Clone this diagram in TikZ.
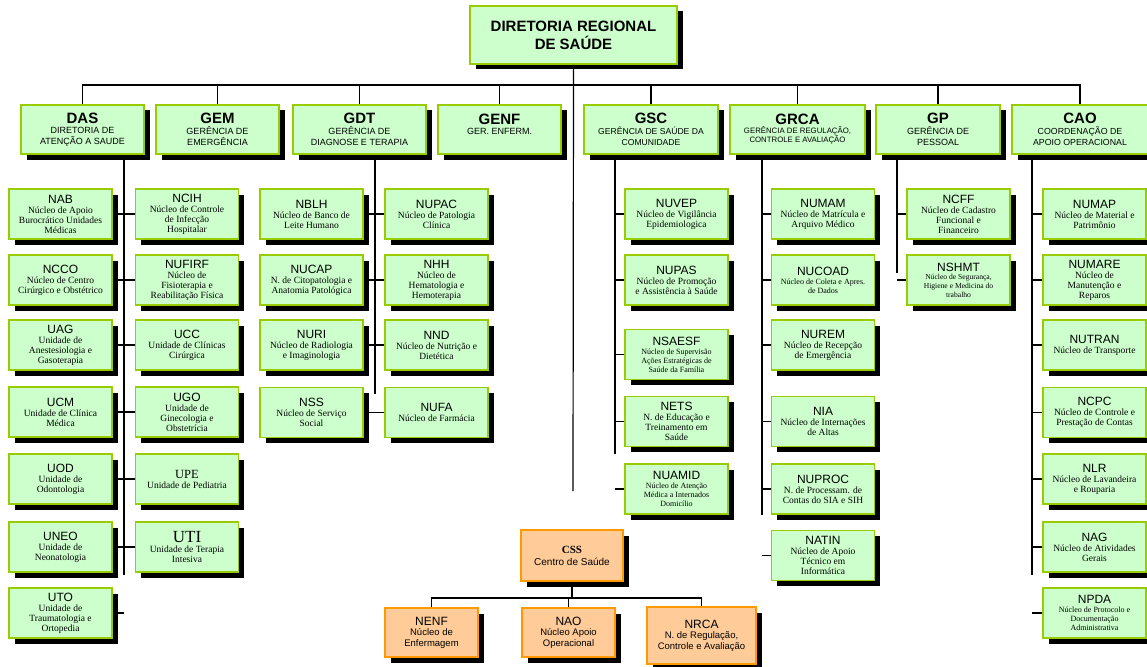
\documentclass[tikz,border=0pt]{standalone}
\usepackage{fontspec}
\setmainfont{Liberation Serif}
\setsansfont{Liberation Sans}
\usetikzlibrary{shadows}
\definecolor{boxgreen}{HTML}{CCFFCC}
\definecolor{edgegreen}{HTML}{99CC00}
\definecolor{boxorange}{HTML}{FFCC99}
\definecolor{edgeorange}{HTML}{FF9900}
\newcommand{\sigla}[1]{{\sffamily\fontsize{12}{12.5}\selectfont #1}}
\newcommand{\gsigla}[1]{{\sffamily\bfseries\fontsize{15}{16}\selectfont #1}}

\begin{document}
\begin{tikzpicture}[x=1pt, y=-1pt, line width=1.2pt,
    shade/.style={drop shadow={shadow xshift=5.5pt, shadow yshift=-5.5pt, fill=black, opacity=1}},
    unit/.style={shade, draw=edgegreen, fill=boxgreen, line width=1.8pt, minimum width=103pt, minimum height=50pt,
      inner sep=1pt, align=center, font=\rmfamily\fontsize{9.5}{10}\selectfont},
    small/.style={font=\rmfamily\fontsize{8}{9}\selectfont},
    manager/.style={shade, draw=edgegreen, fill=boxgreen, line width=1.8pt, minimum width=123pt, minimum height=49pt,
      inner sep=1pt, align=center, font=\sffamily\fontsize{9}{10.7}\selectfont},
    center/.style={unit, draw=edgeorange, fill=boxorange, minimum width=93pt, minimum height=49pt, font=\sffamily\fontsize{9.5}{10.5}\selectfont}]
    \useasboundingbox (0,0) rectangle (1147,666);

    % direction and managements
    \node[manager, minimum width=207pt, minimum height=58pt, font=\sffamily\bfseries\fontsize{15}{18}\selectfont] (dir) at (573.5,35) {DIRETORIA REGIONAL\\DE SAÚDE};
    \node[manager] (das) at (82.5,129.5) {\gsigla{DAS}\\DIRETORIA DE\\ATENÇÃO A SAUDE};
    \node[manager] (gem) at (217.5,129.5) {\gsigla{GEM}\\GERÊNCIA DE\\EMERGÊNCIA};
    \node[manager, minimum width=133pt] (gdt) at (359.5,129.5) {\gsigla{GDT}\\GERÊNCIA DE\\DIAGNOSE E TERAPIA};
    \node[manager] (genf) at (499.5,129.5) {\gsigla{GENF}\\GER. ENFERM.\\\mbox{}};
    \node[manager, minimum width=134pt, font=\sffamily\fontsize{8.6}{10.7}\selectfont] (gsc) at (651,129.5) {\gsigla{GSC}\\GERÊNCIA DE SAÚDE DA\\COMUNIDADE};
    \node[manager, minimum width=135pt, font=\sffamily\fontsize{7.8}{9}\selectfont] (grca) at (797.5,129.5) {\gsigla{GRCA}\\GERÊNCIA DE REGULAÇÃO,\\CONTROLE E AVALIAÇÃO};
    \node[manager, minimum width=124pt] (gp) at (938,129.5) {\gsigla{GP}\\GERÊNCIA DE\\PESSOAL};
    \node[manager, minimum width=136pt, font=\sffamily\fontsize{8.8}{10.7}\selectfont] (cao) at (1080,129.5) {\gsigla{CAO}\\COORDENAÇÃO  DE\\APOIO OPERACIONAL};

    \coordinate (bus) at (0,85);
    \draw (das.north) -- (das.north |- bus) -- (cao.north |- bus) -- (cao.north);
    \foreach \n in {gem,gdt,genf,gsc,grca,gp} {\draw (\n.north) -- (\n.north |- bus);}
    \coordinate (mainend) at (573,491);
    \draw (dir.south) -- (mainend);

    % DAS
    \node[unit] (nab) at (60.5,214) {\sigla{NAB}\\Núcleo de Apoio\\Burocrático Unidades\\Médicas};
    \node[unit] (ncco) at (60.5,280) {\sigla{NCCO}\\Núcleo  de Centro\\Cirúrgico e Obstétrico};
    \node[unit] (uag) at (60.5,345) {\sigla{UAG}\\Unidade de\\Anestesiologia e\\Gasoterapia};
    \node[unit] (ucm) at (60.5,412) {\sigla{UCM}\\Unidade  de Clínica\\Médica};
    \node[unit] (uod) at (60.5,479) {\sigla{UOD}\\Unidade de\\Odontologia};
    \node[unit] (uneo) at (60.5,547) {\sigla{UNEO}\\Unidade de\\Neonatologia};
    \node[unit] (uto) at (60.5,613) {\sigla{UTO}\\Unidade de\\Traumatologia e\\Ortopedia};
    \node[unit] (ncih) at (187,214) {\sigla{NCIH}\\Núcleo de Controle\\de Infecção\\Hospitalar};
    \node[unit] (nufirf) at (187,280) {\sigla{NUFIRF}\\Núcleo de\\Fisioterapia e\\Reabilitação Física};
    \node[unit] (ucc) at (187,345) {\sigla{UCC}\\Unidade  de  Clínicas\\Cirúrgica};
    \node[unit] (ugo) at (187,412) {\sigla{UGO}\\Unidade  de\\Ginecologia e\\Obstetrícia};
    \node[unit] (upe) at (187,479) {{\fontsize{12.5}{13}\selectfont UPE}\\Unidade de Pediatria};
    \node[unit] (uti) at (187,547) {{\fontsize{17}{17}\selectfont UTI}\\Unidade  de Terapia\\Intesiva};
    \coordinate (dasend) at (124,575);
    \draw (das.south -| dasend) -- (dasend);
    \foreach \l/\r in {nab/ncih,ncco/nufirf,uag/ucc,ucm/ugo,uod/upe,uneo/uti} {\draw (\l.east) -- (\r.west);}
    \draw (uto.east) -- (uto.east -| dasend);

    % GDT
    \node[unit] (nblh) at (311.5,214) {\sigla{NBLH}\\Núcleo de Banco de\\Leite Humano};
    \node[unit] (nucap) at (311.5,280) {\sigla{NUCAP}\\N. de Citopatologia e\\Anatomia Patológica};
    \node[unit] (nuri) at (311.5,345) {\sigla{NURI}\\Núcleo de Radiologia\\e Imaginologia};
    \node[unit] (nss) at (311.5,412.5) {\sigla{NSS}\\Núcleo de Serviço\\Social};
    \node[unit] (nupac) at (436.5,214) {\sigla{NUPAC}\\Núcleo de Patologia\\Clínica};
    \node[unit] (nhh) at (436.5,280) {\sigla{NHH}\\Núcleo de\\Hematologia e\\Hemoterapia};
    \node[unit] (nnd) at (436.5,345) {\sigla{NND}\\Núcleo de Nutrição e\\Dietética};
    \node[unit] (nufa) at (436.5,412.5) {\sigla{NUFA}\\Núcleo de Farmácia};
    \coordinate (gdtend) at (375,394);
    \draw (gdt.south -| gdtend) -- (gdtend);
    \foreach \l/\r in {nblh/nupac,nucap/nhh,nuri/nnd,nss/nufa} {\draw (\l.east) -- (\r.west);}

    % GSC
    \node[unit] (nuvep) at (676.5,214) {\sigla{NUVEP}\\Núcleo de Vigilância\\Epidemiologica};
    \node[unit] (nupas) at (676.5,280) {\sigla{NUPAS}\\Núcleo de Promoção\\e Assistência à Saúde};
    \node[unit, small] (nsaesf) at (676.5,354.5) {\sigla{NSAESF}\\Núcleo de Supervisão\\Ações  Estratégicas de\\Saúde da Família};
    \node[unit] (nets) at (676.5,421.5) {\sigla{NETS}\\N. de Educação e\\Treinamento em\\Saúde};
    \node[unit, small] (nuamid) at (676.5,489) {\sigla{NUAMID}\\Núcleo de Atenção\\Médica a Internados\\Domicílio};
    \coordinate (gscend) at (615,454);
    \draw (gsc.south -| gscend) -- (gscend);
    \foreach \n in {nuvep,nupas,nsaesf,nets,nuamid} {\draw (\n.west) -- (\n.west -| gscend);}

    % GRCA
    \node[unit] (numam) at (823,214) {\sigla{NUMAM}\\Núcleo de Matrícula e\\Arquivo Médico};
    \node[unit, small] (nucoad) at (823,280) {\sigla{NUCOAD}\\Núcleo de Coleta e Apres.\\de Dados};
    \node[unit] (nurem) at (823,345) {\sigla{NUREM}\\Núcleo de Recepção\\de Emergência};
    \node[unit] (nia) at (823,421.5) {\sigla{NIA}\\Núcleo de Internações\\de Altas};
    \node[unit] (nuproc) at (823,489) {\sigla{NUPROC}\\N. de Processam. de\\Contas do SIA e SIH};
    \node[unit] (natin) at (823,555.5) {\sigla{NATIN}\\Núcleo de Apoio\\Técnico em\\Informática};
    \coordinate (grcaend) at (762,515);
    \draw (grca.south -| grcaend) -- (grcaend);
    \foreach \n in {numam,nucoad,nurem,nia,nuproc,natin} {\draw (\n.west) -- (\n.west -| grcaend);}

    % GP
    \node[unit] (ncff) at (958.5,214) {\sigla{NCFF}\\Núcleo de Cadastro\\Funcional e\\Financeiro};
    \node[unit, font=\rmfamily\fontsize{7.6}{8.6}\selectfont] (nshmt) at (958.5,280) {\sigla{NSHMT}\\Núcleo de Segurança,\\Higiene e  Medicina do\\trabalho};
    \coordinate (gpend) at (897,273);
    \draw (gp.south -| gpend) -- (gpend);
    \foreach \n in {ncff,nshmt} {\draw (\n.west) -- (\n.west -| gpend);}

    % CAO
    \node[unit] (numap) at (1094.5,214) {\sigla{NUMAP}\\Núcleo de Material  e\\Patrimônio};
    \node[unit] (numare) at (1094.5,280) {\sigla{NUMARE}\\Núcleo de\\Manutenção e\\Reparos};
    \node[unit] (nutran) at (1094.5,345) {\sigla{NUTRAN}\\Núcleo de Transporte};
    \node[unit] (ncpc) at (1094.5,412.5) {\sigla{NCPC}\\Núcleo de Controle e\\Prestação de Contas};
    \node[unit] (nlr) at (1094.5,479) {\sigla{NLR}\\Núcleo de Lavandeira\\e Rouparia};
    \node[unit] (nag) at (1094.5,547) {\sigla{NAG}\\Núcleo de Atividades\\Gerais};
    \node[unit, small] (npda) at (1094.5,613) {\sigla{NPDA}\\Núcleo de Protocolo e\\Documentação\\Administrativa};
    \coordinate (caoend) at (1032,575);
    \draw (cao.south -| caoend) -- (caoend);
    \foreach \n in {numap,numare,nutran,ncpc,nlr,nag,npda} {\draw (\n.west) -- (\n.west -| caoend);}

    % centro de saude
    \node[center, minimum width=102pt, minimum height=51pt, font=\sffamily\fontsize{10}{12}\selectfont] (css) at (572,555.5) {{\rmfamily\bfseries\fontsize{11}{12}\selectfont CSS}\\Centro de Saúde};
    \node[center] (nenf) at (431.5,632.5) {\sigla{NENF}\\Núcleo de\\Enfermagem};
    \node[center] (nao) at (568.5,632.5) {\sigla{NAO}\\Núcleo Apoio\\Operacional};
    \node[center, minimum width=109pt, minimum height=57pt] (nrca) at (701.5,635.5) {\sigla{NRCA}\\N. de Regulação,\\Controle e Avaliação};
    \coordinate (cbus) at (0,598);
    \draw (css.south) -- (css.south |- cbus);
    \draw (nenf.north) -- (nenf.north |- cbus) -- (nrca.north |- cbus) -- (nrca.north);
    \draw (nao.north) -- (nao.north |- cbus);
\end{tikzpicture}
\end{document}
